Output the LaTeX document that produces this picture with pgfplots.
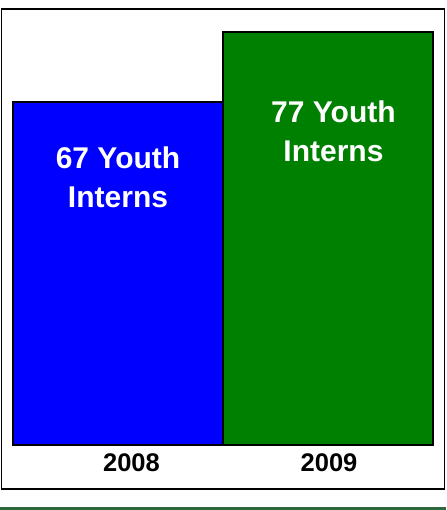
\documentclass[border=0pt]{standalone}
\usepackage{fontspec}
\setmainfont{Liberation Sans}
\usepackage{pgfplots}
\pgfplotsset{compat=1.18}
\definecolor{barblue}{RGB}{0,0,255}
\definecolor{bargreen}{RGB}{0,128,0}
\definecolor{stripgreen}{RGB}{46,104,60}
\begin{document}
\begin{tikzpicture}[x=1pt,y=1pt]
\path[use as bounding box] (0,0) rectangle (446,510);
\fill[stripgreen] (0,0) rectangle (446,2.6);
\draw[line width=1.2pt,black] (1.2,21) rectangle (444.6,501);
\begin{axis}[
  at={(13pt,65pt)}, anchor=south west,
  scale only axis, width=420pt, height=413pt,
  xmin=-0.5, xmax=1.5, ymin=18, ymax=77,
  axis line style={draw=none}, tick style={draw=none},
  ytick=\empty,
  xtick={0.064,1.005}, xticklabels={2008,2009},
  xticklabel style={font=\bfseries\fontsize{25.5}{25.5}\selectfont, yshift=-1pt},
  ybar, bar width=210pt, bar shift=0pt,
  clip=false,
]
\addplot[fill=barblue, draw=black, line width=1.6pt] coordinates {(0,67)};
\addplot[fill=bargreen, draw=black, line width=1.6pt] coordinates {(1,77)};
\node[text=white, font=\bfseries\fontsize{30}{39}\selectfont, align=center] at (axis cs:0,56.2) {67 Youth\\Interns};
\node[text=white, font=\bfseries\fontsize{30}{39}\selectfont, align=center] at (axis cs:1.026,62.86) {77 Youth\\Interns};
\end{axis}
\end{tikzpicture}
\end{document}
